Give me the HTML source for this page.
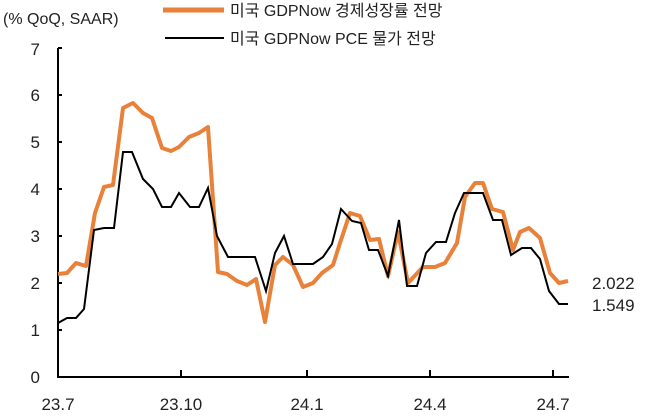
<!DOCTYPE html><html><head><style>body{margin:0;background:#fff}svg{display:block}text{font-family:"Liberation Sans","Noto Sans CJK KR",sans-serif;fill:#222}</style></head><body>
<svg width="647" height="417" xmlns="http://www.w3.org/2000/svg">
<text x="3" y="24" font-size="16">(% QoQ, SAAR)</text>
<line x1="163" y1="10" x2="224" y2="10" stroke="#E8823A" stroke-width="5"/>
<text x="230" y="16" font-size="16">미국 GDPNow 경제성장률 전망</text>
<line x1="165" y1="38" x2="224" y2="38" stroke="#000" stroke-width="2"/>
<text x="230" y="44" font-size="16">미국 GDPNow PCE 물가 전망</text>
<g font-size="17" text-anchor="end">
<text x="40" y="383">0</text><text x="40" y="336">1</text><text x="40" y="289">2</text><text x="40" y="242">3</text><text x="40" y="195">4</text><text x="40" y="148">5</text><text x="40" y="101">6</text><text x="40" y="55">7</text></g>
<g stroke="#000" stroke-width="2" fill="none">
<line x1="58" y1="48" x2="58" y2="377"/><line x1="57" y1="377" x2="569" y2="377"/>
<path d="M58 48h4M58 95h4M58 142h4M58 189h4M58 236h4M58 283h4M58 330h4"/>
<path d="M181 377v-7M307 377v-7M430 377v-7M553 377v-7"/></g>
<g font-size="17" text-anchor="middle"><text x="58" y="410">23.7</text><text x="181" y="410">23.10</text><text x="307" y="410">24.1</text><text x="430" y="410">24.4</text><text x="553" y="410">24.7</text></g>
<polyline fill="none" stroke="#E8823A" stroke-width="4" stroke-linejoin="round" points="58,274 67,273 76,263 86,266 95,213 104,187 113,185 123,108 133,103 143,113 152,118 162,148 171,151 179,147 189,137 199,133 208,127 218,272 227,274 237,281 247,285 256,279 265,322 275,265 283,257 293,265 303,287 313,283 322,273 333,265 340,243 350,213 360,216 370,240 379,239 388,276 398,232 408,283 423,267 435,267 445,263 457,243 465,197 475,183 483,183 492,209 503,212 513,250 520,232 529,228 540,238 550,273 559,283 568,281"/>
<polyline fill="none" stroke="#000" stroke-width="2" points="58,323 67,318 76,318 84,309 94,230 104,228 114,228 123,152 132,152 143,179 153,189 162,207 171,207 179,193 190,207 199,207 208,188 217,236 228,257 255,257 266,291 275,253 284,236 293,264 313,264 323,257 332,244 341,209 352,221 361,223 369,250 378,250 388,276 399,220 407,286 417,286 426,253 436,242 446,242 455,213 464,193 483,193 493,220 502,220 511,255 522,248 531,248 540,259 549,291 559,304 568,304"/>
<text x="592" y="289" font-size="17">2.022</text>
<text x="592" y="311" font-size="17">1.549</text>
</svg></body></html>
